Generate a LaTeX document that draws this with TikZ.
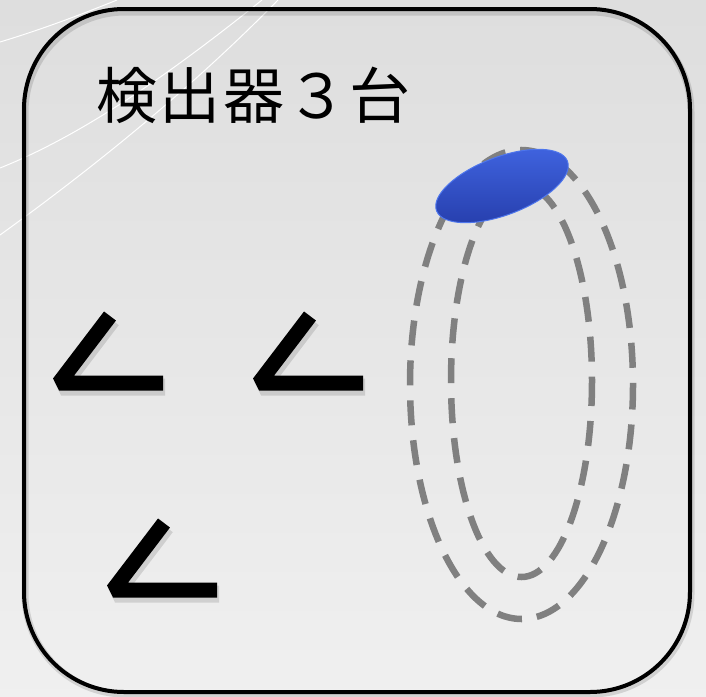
\documentclass[tikz,border=0pt]{standalone}
\usepackage{fontspec}
\newfontfamily\cjk[LetterSpace=4]{Noto Sans CJK JP}
\usepackage{tikz}
\usetikzlibrary{shapes.geometric}
\definecolor{detblue}{RGB}{52,86,210}
\definecolor{detlight}{RGB}{64,100,224}
\definecolor{detdark}{RGB}{38,62,172}
\definecolor{detedge}{RGB}{78,118,236}

\begin{document}
\begin{tikzpicture}[
  x=1pt, y=-1pt,
  frame/.style={draw=black, line width=4pt, rounded corners=100pt},
  angbar/.style={line width=15pt, line join=bevel},
  angshade/.style={line width=17pt, line join=bevel, black, opacity=0.12},
  orbit/.style={draw=black!50, line width=6.5pt, dash pattern=on 25pt off 15pt},
  swirl/.style={white, line width=1pt},
  detector/.style={ellipse, minimum width=140pt, minimum height=58pt, inner sep=0pt,
    draw=detedge, line width=1pt, top color=detlight, bottom color=detdark}]
\useasboundingbox (0,0) rectangle (706,696);
\shade[top color=black!13, bottom color=black!6] (0,0) rectangle (706,696);
% background swirls
\draw[swirl] (0,42) .. controls (40,30) and (80,15) .. (117,0);
\draw[swirl] (0,168) .. controls (70,140) and (150,90) .. (262,0);
\draw[swirl] (0,235) .. controls (90,170) and (190,90) .. (278,0);
% frame
\draw[frame, draw=black, opacity=0.12, line width=7pt] (25,12) rectangle (691,694);
\draw[frame] (24,9) rectangle (690,692);
\node[font=\cjk\fontsize{61}{72}\selectfont, anchor=base west, inner sep=0pt] (title) at (96,118) {検出器３台};
% detectors
\foreach \dx/\dy in {0/0,200/0,54/207} {
  \draw[angshade, shift={(\dx+2,\dy+4)}] (110,316) -- (59,383) -- (163,383);
  \draw[angbar, shift={(\dx,\dy)}] (110,316) -- (59,383) -- (163,383);
}
% orbits
\draw[orbit] (521.5,384.5) ellipse [x radius=111.5, y radius=234.5];
\draw[orbit] (521.5,381) ellipse [x radius=70.5, y radius=196];
\node[detector, rotate=20.7] (det) at (502,186) {};
\end{tikzpicture}
\end{document}
